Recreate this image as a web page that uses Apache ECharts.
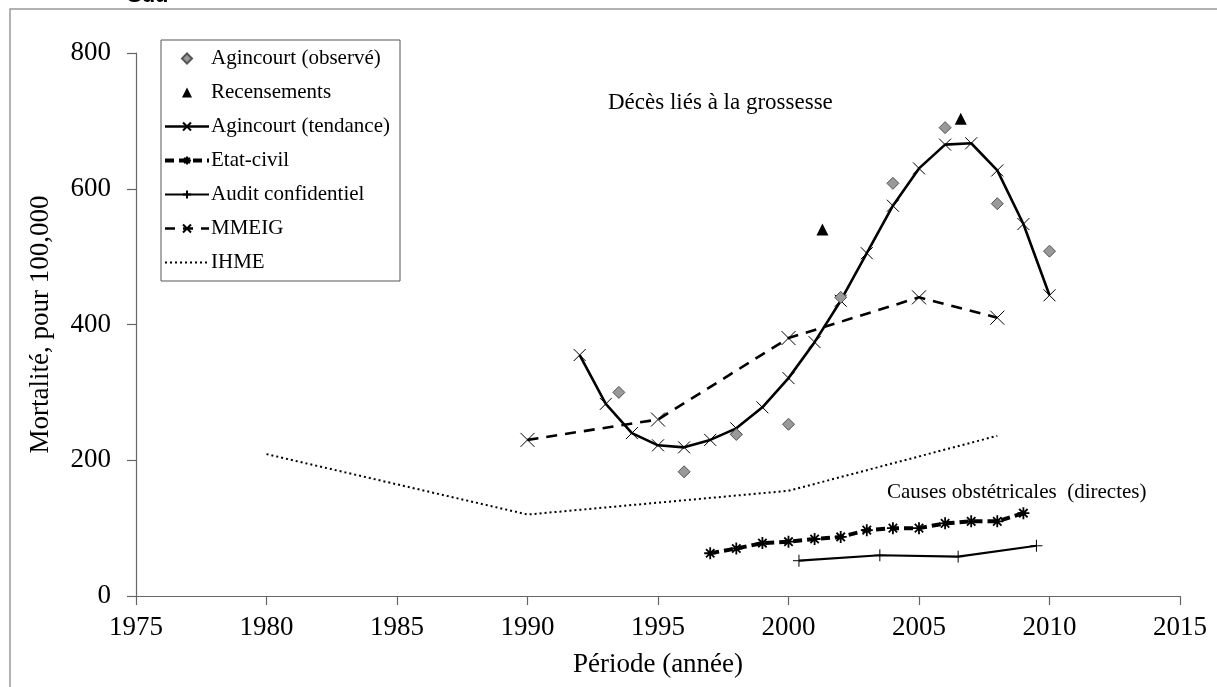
<!DOCTYPE html>
<html>
<head>
<meta charset="utf-8">
<script src="https://cdn.jsdelivr.net/npm/echarts@6/dist/echarts.min.js"></script>
<style>
  html, body { margin: 0; padding: 0; background: #fff; }
  #chart { width: 1217px; height: 687px; }
</style>
</head>
<body>
<div id="chart"></div>
<script>
// données
const observedYears = [1993.5, 1996, 1998, 2000, 2002, 2004, 2006, 2008, 2010];
const observedValues = [300, 183, 238, 253, 440, 608, 690, 578, 508];

const censusYears = [2001.3, 2006.6];
const censusValues = [540, 703];

const trendYears = [1992, 1993, 1994, 1995, 1996, 1997, 1998, 1999, 2000, 2001,
  2002, 2003, 2004, 2005, 2006, 2007, 2008, 2009, 2010];
const trendValues = [355, 283, 240, 222, 219, 230, 247, 278, 321, 374,
  435, 505, 575, 630, 665, 667, 627, 548, 443];

const etatYears = [1997, 1998, 1999, 2000, 2001, 2002, 2003, 2004, 2005, 2006, 2007, 2008, 2009];
const etatValues = [63, 70, 78, 80, 84, 87, 97, 100, 100, 107, 110, 110, 122];

const auditYears = [2000.4, 2003.5, 2006.5, 2009.5];
const auditValues = [52, 60, 58, 74];

const mmeigYears = [1990, 1995, 2000, 2005, 2008];
const mmeigValues = [230, 260, 380, 440, 410];

const ihmeYears = [1980, 1990, 2000, 2008];
const ihmeValues = [209, 120, 155, 236];

const xTicks = [1975, 2015, 5];
const yTicks = [0, 800, 200];

function pairs(xs, ys) {
  return xs.map((x, i) => [x, ys[i]]);
}

// symboles
const crossSym = 'path://M0,0L10,10M10,0L0,10';
const starSym = 'path://M5,0L5,10M0,5L10,5M1.5,1.5L8.5,8.5M8.5,1.5L1.5,8.5';
const plusSym = 'path://M5,0L5,10M0,5L10,5';
const diamondIcon = 'path://M5,0L10,5L5,10L0,5Z';
const triangleIcon = 'path://M5,0L10,10L0,10Z';

const serif = '"Liberation Serif", "Times New Roman", serif';

const chart = echarts.init(document.getElementById('chart'));

const option = {
  animation: false,
  backgroundColor: '#fff',
  textStyle: { fontFamily: serif, color: '#000' },
  grid: { left: 136, right: 37, top: 53, bottom: 91 },
  legend: {
    orient: 'vertical',
    left: 161,
    top: 40,
    backgroundColor: '#fff',
    borderColor: '#555',
    borderWidth: 1,
    borderRadius: 0,
    padding: [8, 10, 8, 2],
    itemWidth: 44,
    itemHeight: 10,
    itemGap: 13,
    symbolKeepAspect: true,
    textStyle: { fontFamily: serif, fontSize: 21, color: '#000', padding: [0, 0, 0, -3] },
    data: [
      { name: 'Agincourt (observé)', icon: diamondIcon },
      { name: 'Recensements', icon: triangleIcon },
      { name: 'Agincourt (tendance)', lineStyle: { width: 2.6 } },
      { name: 'Etat-civil', lineStyle: { width: 4, type: [9, 5] } },
      { name: 'Audit confidentiel', lineStyle: { width: 2.2 } },
      { name: 'MMEIG', lineStyle: { width: 2.6, type: [10, 8] } },
      { name: 'IHME', lineStyle: { width: 2, type: [2, 3] },
        itemStyle: { color: 'rgba(0,0,0,0)', borderWidth: 0 } }
    ]
  },
  xAxis: {
    type: 'value',
    min: xTicks[0], max: xTicks[1], interval: xTicks[2],
    name: 'Période (année)',
    nameLocation: 'middle',
    nameGap: 55,
    nameTextStyle: { fontFamily: serif, fontSize: 27, color: '#000' },
    splitLine: { show: false },
    axisLine: { lineStyle: { color: '#666', width: 1.2 } },
    axisTick: { length: 9, lineStyle: { color: '#666', width: 1.2 } },
    axisLabel: { fontFamily: serif, fontSize: 27, color: '#000', margin: 18, formatter: v => String(v) }
  },
  yAxis: {
    type: 'value',
    min: yTicks[0], max: yTicks[1], interval: yTicks[2],
    name: 'Mortalité, pour 100,000',
    nameLocation: 'middle',
    nameGap: 82,
    nameTextStyle: { fontFamily: serif, fontSize: 27, color: '#000' },
    splitLine: { show: false },
    axisLine: { show: true, lineStyle: { color: '#666', width: 1.2 } },
    axisTick: { show: true, length: 9, lineStyle: { color: '#666', width: 1.2 } },
    axisLabel: { fontFamily: serif, fontSize: 27, color: '#000', margin: 25 }
  },
  series: [
    {
      name: 'Agincourt (observé)',
      type: 'scatter',
      symbol: 'diamond',
      symbolSize: 12,
      itemStyle: { color: '#999', borderColor: '#555', borderWidth: 1, opacity: 1 },
      data: pairs(observedYears, observedValues),
      z: 5
    },
    {
      name: 'Recensements',
      type: 'scatter',
      symbol: 'triangle',
      symbolSize: 12,
      itemStyle: { color: '#000', opacity: 1 },
      data: pairs(censusYears, censusValues),
      z: 5
    },
    {
      name: 'Agincourt (tendance)',
      type: 'line',
      symbol: crossSym,
      symbolSize: 12,
      showAllSymbol: true,
      itemStyle: { color: '#000', borderColor: '#000', borderWidth: 1 },
      lineStyle: { color: '#000', width: 2.6 },
      data: pairs(trendYears, trendValues),
      z: 4
    },
    {
      name: 'Etat-civil',
      type: 'line',
      symbol: starSym,
      symbolSize: 12,
      itemStyle: { color: '#000', borderColor: '#000', borderWidth: 1.8 },
      lineStyle: { color: '#000', width: 4, type: [9, 5] },
      data: pairs(etatYears, etatValues),
      z: 4
    },
    {
      name: 'Audit confidentiel',
      type: 'line',
      symbol: plusSym,
      symbolSize: 12,
      itemStyle: { color: '#000', borderColor: '#000', borderWidth: 1 },
      lineStyle: { color: '#000', width: 2.2 },
      data: pairs(auditYears, auditValues),
      z: 4
    },
    {
      name: 'MMEIG',
      type: 'line',
      symbol: crossSym,
      symbolSize: 14,
      itemStyle: { color: '#000', borderColor: '#000', borderWidth: 1 },
      lineStyle: { color: '#000', width: 2.6, type: [11, 8] },
      data: pairs(mmeigYears, mmeigValues),
      z: 3
    },
    {
      name: 'IHME',
      type: 'line',
      symbol: 'none',
      itemStyle: { color: '#000' },
      lineStyle: { color: '#000', width: 2, type: [2, 3] },
      data: pairs(ihmeYears, ihmeValues),
      z: 3
    }
  ],
  graphic: [
    {
      type: 'rect',
      shape: { x: 10, y: 9, width: 1300, height: 800 },
      style: { fill: 'none', stroke: '#999', lineWidth: 1.5 },
      silent: true, z: -1
    },
    {
      type: 'text', left: 127, top: -15,
      style: { text: 'Sud', font: 'bold 22px "Liberation Sans", Arial, sans-serif', fill: '#000' }
    },
    {
      type: 'text', left: 608, top: 91,
      style: { text: 'Décès liés à la grossesse', font: '23px ' + serif, fill: '#000' }
    },
    {
      type: 'text', left: 887, top: 482,
      style: { text: 'Causes obstétricales  (directes)', font: '21px ' + serif, fill: '#000' }
    }
  ]
};

chart.setOption(option);
</script>
</body>
</html>
